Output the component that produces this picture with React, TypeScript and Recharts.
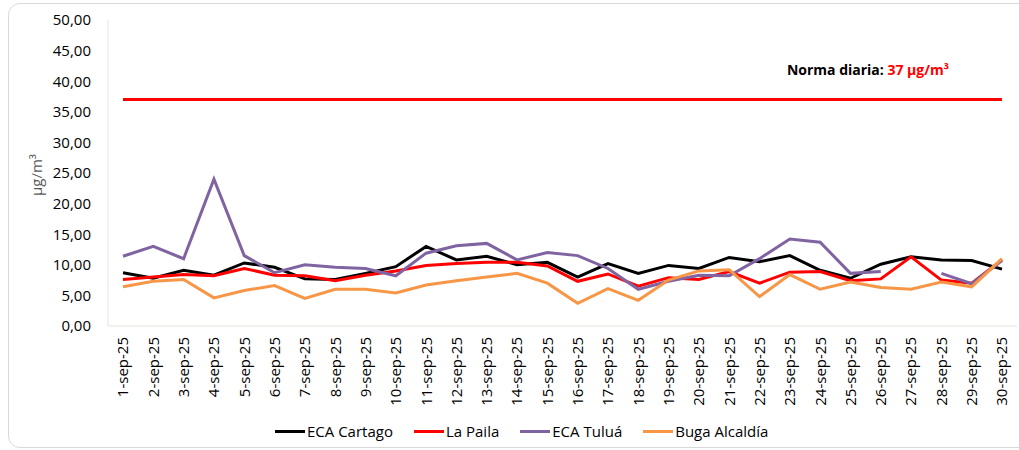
import React from "react";
import { LineChart, Line, XAxis, YAxis } from "recharts";

const dates = [
  "1-sep-25", "2-sep-25", "3-sep-25", "4-sep-25", "5-sep-25", "6-sep-25", "7-sep-25", "8-sep-25",
  "9-sep-25", "10-sep-25", "11-sep-25", "12-sep-25", "13-sep-25", "14-sep-25", "15-sep-25",
  "16-sep-25", "17-sep-25", "18-sep-25", "19-sep-25", "20-sep-25", "21-sep-25", "22-sep-25",
  "23-sep-25", "24-sep-25", "25-sep-25", "26-sep-25", "27-sep-25", "28-sep-25", "29-sep-25", "30-sep-25",
];

const ecaCartago = [8.7, 7.8, 9.1, 8.3, 10.3, 9.6, 7.7, 7.6, 8.6, 9.7, 13.0, 10.8, 11.4, 10.0, 10.4, 8.0, 10.2, 8.6, 9.9, 9.4, 11.2, 10.5, 11.5, 9.1, 7.8, 10.1, 11.3, 10.8, 10.7, 9.3];
const laPaila = [7.6, 8.0, 8.4, 8.2, 9.4, 8.3, 8.2, 7.4, 8.3, 9.0, 9.9, 10.2, 10.4, 10.4, 9.8, 7.3, 8.5, 6.5, 7.9, 7.6, 8.9, 7.0, 8.8, 8.9, 7.4, 7.7, 11.3, 7.5, 7.0, 10.8];
const ecaTulua: (number | null)[] = [11.4, 13.0, 11.0, 24.0, 11.5, 8.7, 10.0, 9.6, 9.4, 8.2, 11.9, 13.1, 13.5, 10.8, 12.0, 11.5, 9.4, 6.0, 7.3, 8.3, 8.2, 11.0, 14.2, 13.7, 8.6, 8.9, null, 8.6, 6.9, 10.7];
const bugaAlcaldia = [6.4, 7.3, 7.6, 4.6, 5.8, 6.6, 4.5, 6.0, 6.0, 5.4, 6.7, 7.4, 8.0, 8.6, 7.0, 3.7, 6.1, 4.2, 7.5, 9.0, 9.2, 4.8, 8.4, 6.0, 7.2, 6.3, 6.0, 7.2, 6.4, 11.0];
const normaDiaria = 37;

const yTicks = [0, 5, 10, 15, 20, 25, 30, 35, 40, 45, 50];

const seriesNames = ["ECA Cartago", "La Paila", "ECA Tuluá", "Buga Alcaldía"];
const seriesKeys = ["cartago", "paila", "tulua", "buga"];
const seriesColors = ["#000000", "#FF0000", "#8064A2", "#F79646"];

const data = dates.map((d, i) => ({
  date: d,
  cartago: ecaCartago[i],
  paila: laPaila[i],
  tulua: ecaTulua[i],
  buga: bugaAlcaldia[i],
  norma: normaDiaria,
}));

const FONT = "'Open Sans', sans-serif";

const XTick = (props: any) => {
  const { x, y, payload } = props;
  return (
    <g transform={`translate(${x},${y})`}>
      <text
        transform="rotate(-90)"
        textAnchor="end"
        dy="0.36em"
        fontSize={15}
        fill="#000000"
        fontFamily={FONT}
      >
        {payload.value}
      </text>
    </g>
  );
};

const LegendBox = () => (
  <div
    style={{
      position: "absolute",
      left: 275,
      top: 421,
      display: "flex",
      alignItems: "center",
      fontFamily: FONT,
      fontSize: 15,
      color: "#000",
      whiteSpace: "nowrap",
    }}
  >
    {seriesNames.map((n, i) => (
      <div key={n} style={{ display: "flex", alignItems: "center", marginRight: 21 }}>
        <span style={{ display: "inline-block", width: 30, height: 3, background: seriesColors[i], marginRight: 2 }} />
        <span>{n}</span>
      </div>
    ))}
  </div>
);

export default function App() {
  return (
    <div style={{ position: "absolute", left: 0, top: 0, width: 1019, height: 450, background: "#fff", fontFamily: FONT, overflow: "hidden" }}>
      <div
        style={{
          position: "absolute",
          left: 8,
          top: 3,
          width: 1040,
          height: 443,
          border: "1px solid #D9D9D9",
          borderRadius: 12,
        }}
      />
      <LineChart
        width={1019}
        height={450}
        data={data}
        margin={{ top: 20, right: 2, left: 0, bottom: 34 }}
        style={{ position: "absolute", left: 0, top: 0 }}
      >
        <XAxis
          dataKey="date"
          interval={0}
          padding={{ left: 15, right: 15 }}
          height={90}
          tickSize={0}
          tickMargin={11}
          tick={<XTick />}
          axisLine={{ stroke: "#E3E3DB", strokeWidth: 1 }}
          tickLine={false}
        />
        <YAxis
          domain={[0, 50]}
          ticks={yTicks}
          interval={0}
          width={108}
          tickSize={0}
          tickMargin={17}
          tickLine={false}
          axisLine={{ stroke: "#E3E3DB", strokeWidth: 1 }}
          tickFormatter={(v: number) => v.toFixed(2).replace(".", ",")}
          tick={{ fontSize: 15, fill: "#000000", fontFamily: FONT }}
          label={{
            value: "µg/m³",
            angle: -90,
            position: "insideLeft",
            dx: 32,
            dy: 2,
            style: { fontSize: 15, fill: "#595959", fontFamily: FONT, textAnchor: "middle" },
          }}
        />
        <Line dataKey="norma" stroke="#FF0000" strokeWidth={3} dot={false} isAnimationActive={false} legendType="none" />
        {seriesKeys.map((k, i) => (
          <Line
            key={k}
            dataKey={k}
            name={seriesNames[i]}
            stroke={seriesColors[i]}
            strokeWidth={3}
            dot={false}
            isAnimationActive={false}
          />
        ))}
        <text x={868} y={75} textAnchor="middle" fontSize={14} fontWeight="bold" fontFamily={FONT} fill="#000">
          Norma diaria: <tspan fill="#FF0000">37 µg/m³</tspan>
        </text>
      </LineChart>
      <LegendBox />
    </div>
  );
}
